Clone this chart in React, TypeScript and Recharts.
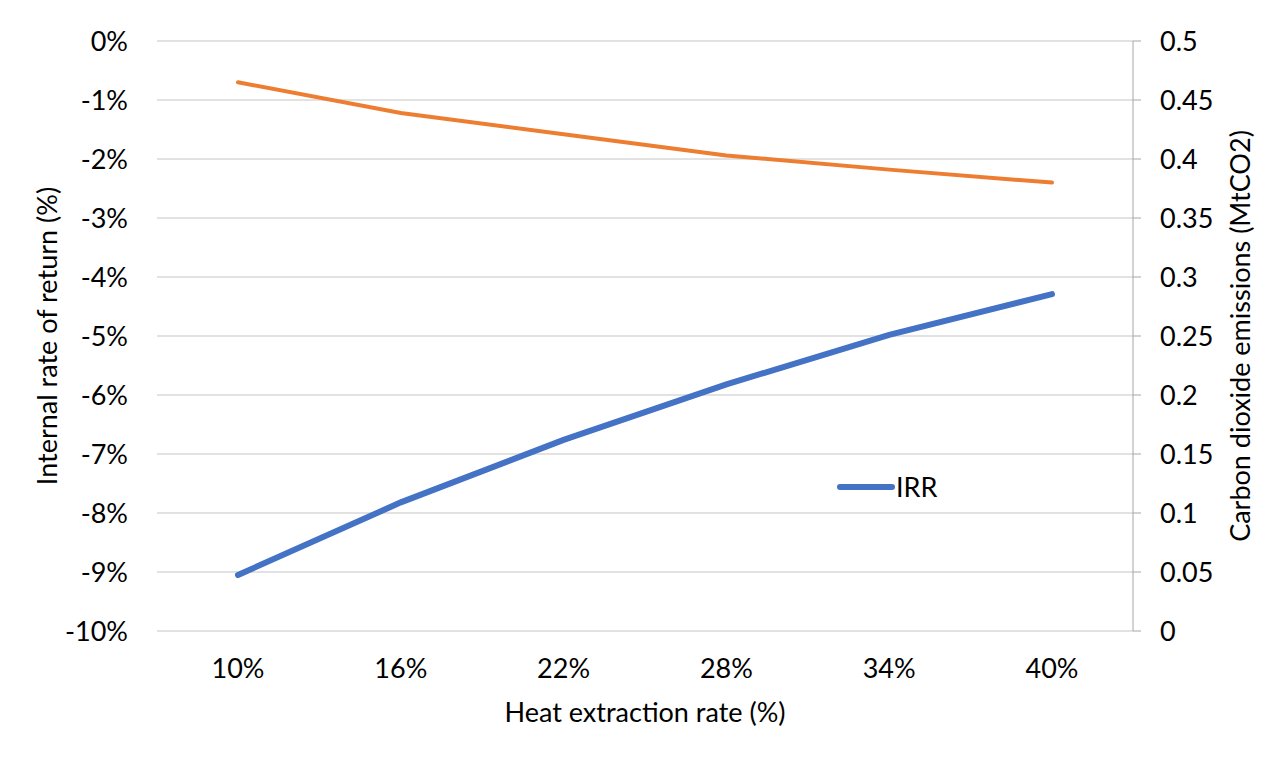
import { LineChart, Line, XAxis, YAxis, CartesianGrid, Legend, Label } from 'recharts'

const rates = ['10%', '16%', '22%', '28%', '34%', '40%']
const irr = [-9.05, -7.82, -6.76, -5.82, -4.98, -4.29]
const co2 = [0.465, 0.439, 0.421, 0.403, 0.391, 0.38]
const irrTicks = [-10, -9, -8, -7, -6, -5, -4, -3, -2, -1, 0]
const co2Ticks = [0, 0.05, 0.1, 0.15, 0.2, 0.25, 0.3, 0.35, 0.4, 0.45, 0.5]

const data = rates.map((rate, i) => ({ rate, irr: irr[i], co2: co2[i] }))

const FONT = 'Lato, "Liberation Sans", sans-serif'
const tickStyle = { fill: '#000', fontSize: 27, fontFamily: FONT }

const IrrLegend = () => (
  <div style={{ display: 'flex', alignItems: 'center', fontFamily: FONT, fontSize: 27, color: '#000' }}>
    <svg width={58} height={10} style={{ marginRight: 1 }}>
      <line x1={3} y1={5} x2={55} y2={5} stroke="#4472C4" strokeWidth={6} strokeLinecap="round" />
    </svg>
    <span>IRR</span>
  </div>
)

export default function App() {
  return (
    <div
      style={{
        width: 1250,
        height: 760,
        border: '1px solid #c8c8c8',
        margin: '-1px 0 0 -1px',
        background: '#fff',
        fontFamily: FONT,
      }}
    >
      <LineChart width={1250} height={756} data={data} margin={{ top: 33, right: 0, left: 0, bottom: 37 }}>
        <CartesianGrid yAxisId="left" vertical={false} stroke="#d9d9d9" strokeWidth={1.5} />
        <XAxis
          dataKey="rate"
          axisLine={false}
          tickLine={false}
          tickSize={0}
          tickMargin={28}
          height={96}
          interval={0}
          padding={{ left: 81, right: 81 }}
          tick={tickStyle}
        >
          <Label value="Heat extraction rate (%)" position="insideBottom" offset={5} style={tickStyle} />
        </XAxis>
        <YAxis
          yAxisId="left"
          width={149}
          domain={[-10, 0]}
          ticks={irrTicks}
          interval={0}
          axisLine={false}
          tickLine={false}
          tickSize={0}
          tickMargin={29}
          tick={tickStyle}
          tickFormatter={(v) => `${v}%`}
        >
          <Label
            value="Internal rate of return (%)"
            angle={-90}
            position="insideLeft"
            offset={39}
            style={{ ...tickStyle, textAnchor: 'middle' }}
          />
        </YAxis>
        <YAxis
          yAxisId="right"
          orientation="right"
          width={125}
          domain={[0, 0.5]}
          ticks={co2Ticks}
          interval={0}
          axisLine={{ stroke: '#a6a6a6' }}
          tickLine={{ stroke: '#a6a6a6' }}
          tickSize={8}
          tickMargin={19}
          tick={tickStyle}
          tickFormatter={(v) => String(v)}
        >
          <Label
            value="Carbon dioxide emissions (MtCO2)"
            angle={-90}
            position="insideRight"
            offset={18}
            style={{ ...tickStyle, textAnchor: 'middle' }}
          />
        </YAxis>
        <Legend
          layout="vertical"
          align="center"
          verticalAlign="middle"
          content={() => <IrrLegend />}
          wrapperStyle={{ position: 'absolute', left: 829, top: 462, width: 'auto', height: 'auto' }}
        />
        <Line
          yAxisId="left"
          type="linear"
          dataKey="irr"
          name="IRR"
          stroke="#4472C4"
          strokeWidth={6}
          strokeLinecap="round"
          dot={false}
          isAnimationActive={false}
        />
        <Line
          yAxisId="right"
          type="linear"
          dataKey="co2"
          name="CO2"
          stroke="#ED7D31"
          strokeWidth={4}
          strokeLinecap="round"
          dot={false}
          isAnimationActive={false}
        />
      </LineChart>
    </div>
  )
}
